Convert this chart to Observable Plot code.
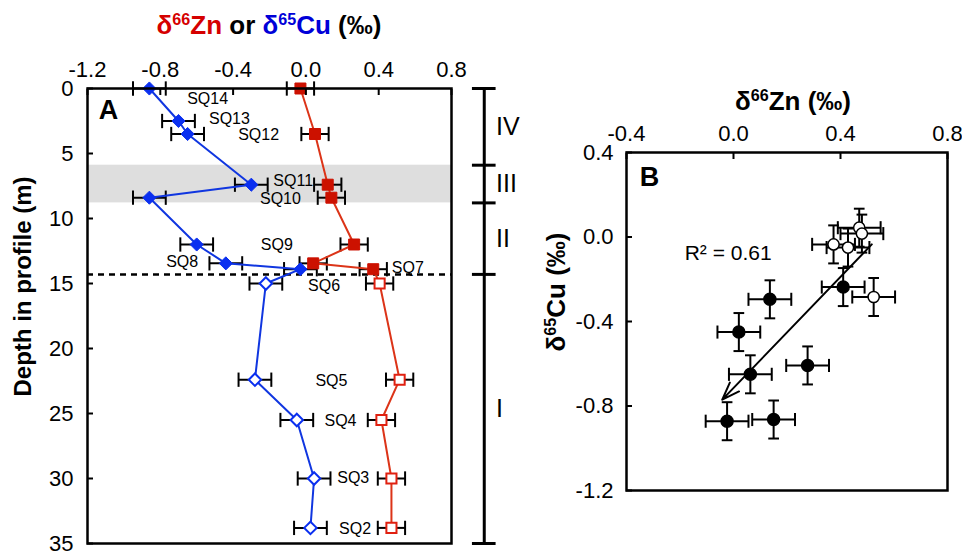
<!DOCTYPE html>
<html><head><meta charset="utf-8">
<script src="https://cdn.jsdelivr.net/npm/d3@7"></script>
<script src="https://cdn.jsdelivr.net/npm/@observablehq/plot@0.6"></script>
<style>
body{margin:0;background:#fff;font-family:"Liberation Sans",Arial,sans-serif;}
#wrap{position:relative;width:962px;height:555px;overflow:hidden;background:#fff;}
.panel{position:absolute;top:0;}
.ttl{position:absolute;font-weight:bold;white-space:nowrap;line-height:1;font-size:26px;color:#000;transform:translate(-50%,-50%);}
.ttl sup{font-size:0.62em;vertical-align:0.55em;line-height:0;}
</style></head>
<body>
<div id="wrap">
  <div id="panelA" class="panel" style="left:0"></div>
  <div id="panelB" class="panel" style="left:560px"></div>
  <div class="ttl" style="left:269px;top:25px"><span style="color:#d50000">δ<sup>66</sup>Zn</span> or <span style="color:#0000d8">δ<sup>65</sup>Cu</span> (‰)</div>
  <div class="ttl" style="left:793px;top:101px">δ<sup>66</sup>Zn (‰)</div>
  <div class="ttl" style="left:556px;top:292px;transform:translate(-50%,-50%) rotate(-90deg)">δ<sup>65</sup>Cu (‰)</div>
</div>
<script>
// ---------- Panel A data ----------
const samples = ["SQ14","SQ13","SQ12","SQ11","SQ10","SQ9","SQ8","SQ7","SQ6","SQ5","SQ4","SQ3","SQ2"];
const depth   = [0, 2.5, 3.5, 7.4, 8.4, 12.0, 13.45, 13.9, 15.0, 22.4, 25.5, 30.0, 33.8];
const d66Zn   = [-0.03, null, 0.05, 0.12, 0.14, 0.265, 0.04, 0.37, 0.405, 0.515, 0.415, 0.47, 0.47];
const d65Cu   = [-0.86, -0.70, -0.65, -0.30, -0.86, -0.60, -0.44, -0.03, -0.22, -0.28, -0.05, 0.045, 0.025];
const unit    = ["IV","IV","IV","III","III","II","II","II","I","I","I","I","I"];
const znErr = 0.075, cuErr = 0.09;

// profile units (depth, m)
const unitNames  = ["IV","III","II","I"];
const unitTop    = [0, 5.9, 8.8, 14.3];
const unitBottom = [5.9, 8.8, 14.3, 35];

const xTicksA = [-1.2, -0.8, -0.4, 0.0, 0.4, 0.8];
const yTicksA = [0, 5, 10, 15, 20, 25, 30, 35];

// ---------- Panel B data ----------
const bZn   = [0.47, 0.48, 0.374, 0.428, 0.524, 0.41, 0.136, 0.02, 0.063, 0.277, -0.024, 0.15];
const bCu   = [0.044, 0.016, -0.035, -0.05, -0.284, -0.237, -0.295, -0.45, -0.65, -0.608, -0.872, -0.864];
const bUnitI = [true, true, true, true, true, false, false, false, false, false, false, false];
const bZnErr = 0.08, bCuErr = 0.09;
const trendStart = [0.517, -0.035], trendEnd = [-0.042, -0.77];
const r2 = 0.61;
const xTicksB = [-0.4, 0.0, 0.4, 0.8];
const yTicksB = [0.4, 0.0, -0.4, -0.8, -1.2];

// ---------- build ----------
const FONT = "Liberation Sans, Arial, sans-serif";
const BLUE = "#1036e0", RED = "#dc3418", BLUE_M = "#0a2ff0", RED_M = "#cc1100";
const rows = samples.map((s, i) => ({s, depth: depth[i], zn: d66Zn[i], cu: d65Cu[i], open: unit[i] === "I"}));
const znRows = rows.filter(d => d.zn != null);
const units = unitNames.map((u, i) => ({u, top: unitTop[i], bottom: unitBottom[i]}));
const bandIII = units.filter(d => d.u === "III");
const unitI = units.find(d => d.u === "I");
// label anchor points for sample names (data coordinates)
const labelAt = [[-0.54,0.8],[-0.42,2.35],[-0.26,3.6],[-0.07,7.1],[-0.14,8.5],[-0.16,12.0],[-0.68,13.36],[0.56,13.8],[0.10,15.15],[0.14,22.46],[0.19,25.54],[0.26,29.92],[0.27,33.9]];
const labels = samples.map((s, i) => ({s, x: labelAt[i][0], y: labelAt[i][1]}));
const capA = 0.55;
const bracketX = 0.98, capHalf = 0.065;

const plotA = Plot.plot({
  width: 560, height: 555,
  marginLeft: 87, marginRight: 109, marginTop: 88, marginBottom: 12,
  style: {fontFamily: FONT, background: "transparent", overflow: "visible", color: "#000"},
  x: {domain: [-1.2, 0.8], axis: null},
  y: {domain: [0, 35], reverse: true, axis: null},
  marks: [
    Plot.rect(bandIII, {x1: -1.2, x2: 0.8, y1: "top", y2: "bottom", fill: "#dedede"}),
    Plot.ruleY([unitI], {y: "top", x1: -1.2, x2: 0.8, stroke: "#000", strokeWidth: 2.5, strokeDasharray: "6,5"}),
    // error bars
    Plot.link(rows, {x1: d => d.cu - cuErr, x2: d => d.cu + cuErr, y1: "depth", y2: "depth", stroke: "#000", strokeWidth: 2}),
    Plot.link(rows, {x1: d => d.cu - cuErr, x2: d => d.cu - cuErr, y1: d => d.depth - capA, y2: d => d.depth + capA, stroke: "#000", strokeWidth: 2}),
    Plot.link(rows, {x1: d => d.cu + cuErr, x2: d => d.cu + cuErr, y1: d => d.depth - capA, y2: d => d.depth + capA, stroke: "#000", strokeWidth: 2}),
    Plot.link(znRows, {x1: d => d.zn - znErr, x2: d => d.zn + znErr, y1: "depth", y2: "depth", stroke: "#000", strokeWidth: 2}),
    Plot.link(znRows, {x1: d => d.zn - znErr, x2: d => d.zn - znErr, y1: d => d.depth - capA, y2: d => d.depth + capA, stroke: "#000", strokeWidth: 2}),
    Plot.link(znRows, {x1: d => d.zn + znErr, x2: d => d.zn + znErr, y1: d => d.depth - capA, y2: d => d.depth + capA, stroke: "#000", strokeWidth: 2}),
    // profiles
    Plot.line(rows, {x: "cu", y: "depth", stroke: BLUE, strokeWidth: 2}),
    Plot.line(znRows, {x: "zn", y: "depth", stroke: RED, strokeWidth: 2}),
    Plot.dot(rows.filter(d => !d.open), {x: "cu", y: "depth", symbol: "diamond2", r: 5.9, fill: BLUE_M, stroke: BLUE_M, strokeWidth: 1}),
    Plot.dot(rows.filter(d => d.open), {x: "cu", y: "depth", symbol: "diamond2", r: 5.6, fill: "#fff", stroke: BLUE_M, strokeWidth: 2}),
    Plot.dot(znRows.filter(d => !d.open), {x: "zn", y: "depth", symbol: "square", r: 6.2, fill: RED_M, stroke: RED_M, strokeWidth: 1}),
    Plot.dot(znRows.filter(d => d.open), {x: "zn", y: "depth", symbol: "square", r: 5.7, fill: "#fff", stroke: "#e02010", strokeWidth: 2}),
    Plot.text(labels, {x: "x", y: "y", text: "s", fontSize: 16, fill: "#000"}),
    Plot.text(["A"], {frameAnchor: "top-left", dx: 21, dy: 22, textAnchor: "middle", lineAnchor: "middle", fontSize: 27, fontWeight: "bold"}),
    Plot.frame({stroke: "#000", strokeWidth: 2.5}),
    Plot.axisX({anchor: "top", ticks: xTicksA, tickSize: -6, tickPadding: 18, strokeWidth: 2, tickFormat: d => d.toFixed(1), fontSize: 22}),
    Plot.axisY({anchor: "left", ticks: yTicksA, tickSize: -6, tickPadding: 20, strokeWidth: 2, tickFormat: d => String(d), fontSize: 22}),
    Plot.text(["Depth in profile (m)"], {frameAnchor: "left", rotate: -90, dx: -64.5, dy: -29.5, textAnchor: "middle", lineAnchor: "middle", fontSize: 24, fontWeight: "bold"}),
    // stratigraphic unit bracket
    Plot.ruleX([bracketX], {y1: 0, y2: 35, stroke: "#000", strokeWidth: 3}),
    Plot.ruleY(unitTop.concat([35]), {y: d => d, x1: bracketX - capHalf, x2: bracketX + capHalf, stroke: "#000", strokeWidth: 3}),
    Plot.text(units, {x: bracketX + 0.065, y: d => (d.top + d.bottom) / 2, text: "u", textAnchor: "start", fontSize: 25})
  ]
});
document.getElementById("panelA").appendChild(plotA);

const bRows = bZn.map((z, i) => ({zn: z, cu: bCu[i], open: bUnitI[i]}));
const capBx = 0.02, capBy = 0.031;
const plotB = Plot.plot({
  width: 402, height: 555,
  marginLeft: 66, marginRight: 15, marginTop: 152, marginBottom: 65,
  style: {fontFamily: FONT, background: "transparent", overflow: "visible", color: "#000"},
  x: {domain: [-0.4, 0.8], axis: null},
  y: {domain: [-1.2, 0.4], axis: null},
  marks: [
    // x error bars
    Plot.link(bRows, {x1: d => d.zn - bZnErr, x2: d => d.zn + bZnErr, y1: "cu", y2: "cu", stroke: "#000", strokeWidth: 2}),
    Plot.link(bRows, {x1: d => d.zn - bZnErr, x2: d => d.zn - bZnErr, y1: d => d.cu - capBy, y2: d => d.cu + capBy, stroke: "#000", strokeWidth: 2}),
    Plot.link(bRows, {x1: d => d.zn + bZnErr, x2: d => d.zn + bZnErr, y1: d => d.cu - capBy, y2: d => d.cu + capBy, stroke: "#000", strokeWidth: 2}),
    // y error bars
    Plot.link(bRows, {x1: "zn", x2: "zn", y1: d => d.cu - bCuErr, y2: d => d.cu + bCuErr, stroke: "#000", strokeWidth: 2}),
    Plot.link(bRows, {x1: d => d.zn - capBx, x2: d => d.zn + capBx, y1: d => d.cu - bCuErr, y2: d => d.cu - bCuErr, stroke: "#000", strokeWidth: 2}),
    Plot.link(bRows, {x1: d => d.zn - capBx, x2: d => d.zn + capBx, y1: d => d.cu + bCuErr, y2: d => d.cu + bCuErr, stroke: "#000", strokeWidth: 2}),
    Plot.arrow([{x1: trendStart[0], y1: trendStart[1], x2: trendEnd[0], y2: trendEnd[1]}], {x1: "x1", y1: "y1", x2: "x2", y2: "y2", stroke: "#000", strokeWidth: 2, headLength: 14, headAngle: 40}),
    Plot.dot(bRows.filter(d => !d.open), {x: "zn", y: "cu", r: 6, fill: "#000", stroke: "#000"}),
    Plot.dot(bRows.filter(d => d.open), {x: "zn", y: "cu", r: 5.6, fill: "#fff", stroke: "#000", strokeWidth: 1.5}),
    Plot.text([`R² = ${r2.toFixed(2)}`], {x: -0.02, y: -0.075, fontSize: 21, textAnchor: "middle"}),
    Plot.text(["B"], {frameAnchor: "top-left", dx: 23, dy: 25, textAnchor: "middle", lineAnchor: "middle", fontSize: 27, fontWeight: "bold"}),
    Plot.frame({stroke: "#000", strokeWidth: 2.5}),
    Plot.axisX({anchor: "top", ticks: xTicksB, tickSize: -6, tickPadding: 18, strokeWidth: 2, tickFormat: d => d.toFixed(1), fontSize: 22}),
    Plot.axisY({anchor: "left", ticks: yTicksB, tickSize: -6, tickPadding: 19, strokeWidth: 2, tickFormat: d => d.toFixed(1), fontSize: 22})
  ]
});
document.getElementById("panelB").appendChild(plotB);
</script>
</body></html>
